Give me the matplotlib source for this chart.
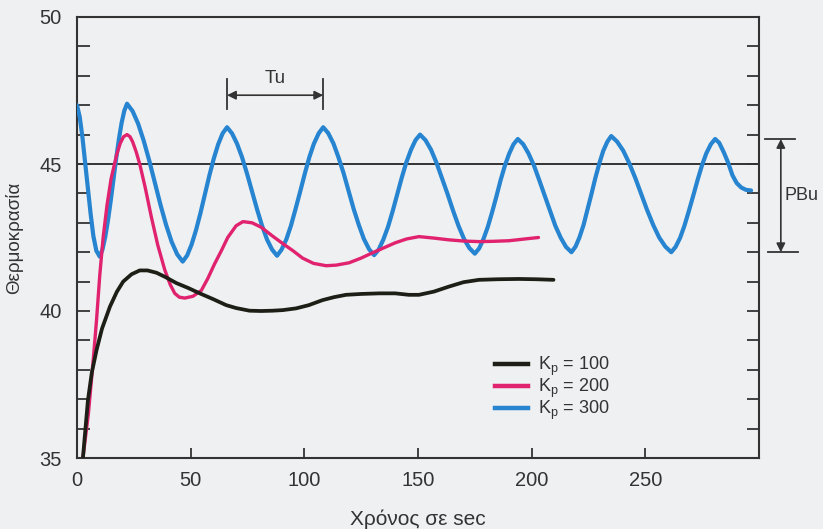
import numpy as np
import matplotlib
matplotlib.use("Agg")
import matplotlib.pyplot as plt
from matplotlib.lines import Line2D

plt.rcParams['font.family'] = ['Liberation Sans', 'DejaVu Sans']
plt.rcParams['mathtext.fontset'] = 'custom'
plt.rcParams['mathtext.rm'] = 'Liberation Sans'
plt.rcParams['mathtext.it'] = 'Liberation Sans:italic'

# ---- data: temperature response for three proportional gains ----
black_t = [2.6, 4.8, 6.5, 8.6, 11, 14.5, 17.5, 20.3, 24, 27.6, 31, 35, 39, 43.7, 49,
           54, 60, 65.6, 70, 75.9, 81, 86, 90.5, 96.4, 102, 108, 113, 118.3, 125, 133,
           140, 146, 150.4, 157, 163.6, 170, 176.8, 185, 194.3, 202, 209.6]
black_y = [35, 36.96, 37.9, 38.67, 39.4, 40.15, 40.65, 41.0, 41.25, 41.38, 41.38, 41.3, 41.15, 40.95, 40.78,
           40.6, 40.4, 40.2, 40.1, 40.01, 40.0, 40.01, 40.03, 40.09, 40.2, 40.37, 40.47, 40.55, 40.58, 40.6,
           40.6, 40.55, 40.55, 40.66, 40.83, 40.98, 41.06, 41.08, 41.09, 41.08, 41.06]

pink_t = [2.6, 5, 7, 8.6, 10, 11.5, 13.2, 15, 17.4, 19, 20.5, 22, 23.3, 24.5, 26, 27.6, 30, 32.7,
          35.5, 38.6, 41, 43, 45, 47.4, 51, 54.7, 57.5, 60.5, 63.5, 66.3, 70, 73, 77,
          81, 86, 90.4, 95, 99.2, 104, 109.6, 114, 119.7, 125, 130, 135, 140, 145, 150.4,
          157, 163.6, 170, 176.8, 183, 190, 197, 203]
pink_y = [35, 36.5, 38.2, 39.7, 41.2, 42.5, 43.6, 44.5, 45.3, 45.7, 45.93, 46.0, 45.93, 45.75, 45.42, 45.0, 44.2, 43.2,
          42.25, 41.4, 40.9, 40.6, 40.47, 40.44, 40.5, 40.7, 41.1, 41.6, 42.05, 42.5, 42.9, 43.04, 43.0,
          42.85, 42.55, 42.3, 42.05, 41.8, 41.62, 41.54, 41.56, 41.64, 41.8, 41.98, 42.15, 42.32, 42.45, 42.53,
          42.48, 42.42, 42.38, 42.36, 42.37, 42.39, 42.45, 42.5]

blue_t = [0, 1.2, 2.4, 3.5, 4.7, 6, 7.2, 8.5,
          10, 11.2, 12.4, 13.6, 14.8, 16, 17.2, 18.4, 19.6, 20.8,
          22, 24.45, 26.9, 29.35, 31.8, 34.25, 36.7, 39.15, 41.6, 44.05,
          46.5, 48.45, 50.4, 52.35, 54.3, 56.25, 58.2, 60.15, 62.1, 64.05,
          66, 68.2, 70.4, 72.6, 74.8, 77, 79.2, 81.4, 83.6, 85.8,
          88, 90, 92.1, 94.1, 96.1, 98.2, 100.2, 102.2, 104.2, 106.3,
          108.3, 110.5, 112.8, 115, 117.3, 119.5, 121.7, 124, 126.2, 128.5,
          130.7, 132.7, 134.7, 136.8, 138.8, 140.8, 142.8, 144.8, 146.9, 148.9,
          150.9, 153.3, 155.7, 158.1, 160.5, 163, 165.4, 167.8, 170.2, 172.6,
          175, 176.9, 178.8, 180.7, 182.6, 184.5, 186.3, 188.2, 190.1, 192,
          193.9, 196.3, 198.6, 201, 203.3, 205.7, 208.1, 210.4, 212.8, 215.1,
          217.5, 219.3, 221, 222.8, 224.5, 226.3, 228, 229.8, 231.5, 233.3,
          235, 237.6, 240.3, 242.9, 245.6, 248.2, 250.8, 253.5, 256.1, 258.8,
          261.4, 263.3, 265.3, 267.2, 269.1, 271.1, 273, 274.9, 276.8, 278.8,
          280.7, 282.5, 284.5, 286.4, 288.3, 290.2, 292.2, 294.3, 296.5]
blue_y = [47.0, 46.6, 45.9, 45.1, 44.2, 43.3, 42.55, 42.05,
          41.85, 42.09, 42.51, 43.07, 43.73, 44.45, 45.17, 45.83, 46.39, 46.81,
          47.05, 46.80, 46.37, 45.79, 45.11, 44.37, 43.62, 42.94, 42.36, 41.93,
          41.68, 41.89, 42.26, 42.75, 43.33, 43.97, 44.60, 45.18, 45.67, 46.04,
          46.25, 46.04, 45.69, 45.23, 44.67, 44.07, 43.46, 42.90, 42.43, 42.09,
          41.88, 42.09, 42.44, 42.90, 43.46, 44.07, 44.67, 45.23, 45.69, 46.04,
          46.25, 46.05, 45.70, 45.23, 44.68, 44.08, 43.47, 42.92, 42.45, 42.10,
          41.90, 42.09, 42.42, 42.86, 43.38, 43.95, 44.52, 45.04, 45.48, 45.81,
          46.00, 45.81, 45.49, 45.05, 44.53, 43.98, 43.42, 42.90, 42.46, 42.14,
          41.95, 42.13, 42.45, 42.86, 43.36, 43.90, 44.44, 44.94, 45.35, 45.67,
          45.85, 45.67, 45.36, 44.95, 44.46, 43.93, 43.39, 42.90, 42.49, 42.18,
          42.00, 42.19, 42.50, 42.92, 43.43, 43.98, 44.52, 45.03, 45.45, 45.76,
          45.95, 45.76, 45.45, 45.03, 44.52, 43.98, 43.43, 42.92, 42.50, 42.19,
          42.00, 42.18, 42.49, 42.90, 43.39, 43.93, 44.46, 44.95, 45.36, 45.67,
          45.85, 45.72, 45.40, 45.05, 44.62, 44.35, 44.20, 44.12, 44.10]

series_labels = ['K$_\\mathregular{p}$ = 100', 'K$_\\mathregular{p}$ = 200', 'K$_\\mathregular{p}$ = 300']
setpoint = 45
x_ticks = [0, 50, 100, 150, 200, 250]
y_ticks = [35, 40, 45, 50]

# ---- style ----
bg = '#eef0f1'
ink = '#333333'
c_black = '#1d1e16'
c_pink = '#e0226f'
c_blue = '#2684d0'

fig = plt.figure(figsize=(8.23, 5.29), dpi=100, facecolor=bg)
ax = fig.add_axes([77 / 823, 1 - 458 / 529, (759 - 77) / 823, (458 - 17) / 529])
ax.set_facecolor(bg)

ax.set_xlim(0, 300)
ax.set_ylim(35, 50)

ax.axhline(setpoint, color=ink, lw=1.4, zorder=1)

ax.plot(blue_t, blue_y, color=c_blue, lw=3.0, solid_joinstyle='round', solid_capstyle='round', zorder=3)
ax.plot(pink_t, pink_y, color=c_pink, lw=2.4, solid_joinstyle='round', solid_capstyle='round', zorder=4)
ax.plot(black_t, black_y, color=c_black, lw=2.7, solid_joinstyle='round', solid_capstyle='round', zorder=5)

for s in ax.spines.values():
    s.set_color(ink)
    s.set_linewidth(1.5)

ax.set_xticks(x_ticks)
ax.set_yticks(y_ticks)
ax.set_yticks(np.arange(35, 51, 1), minor=True)
ax.tick_params(axis='x', which='both', direction='in', length=7, width=1.3, color=ink,
               labelsize=14.5, labelcolor=ink, pad=9, top=False)
ax.tick_params(axis='y', which='both', direction='in', length=9, width=1.3, color=ink,
               labelsize=14.5, labelcolor=ink, pad=11, left=True, right=True)

ax.set_xlabel('Χρόνος σε sec', fontsize=15, color=ink, labelpad=14.5)
ax.set_ylabel('Θερμοκρασία', fontsize=13.5, color=ink, labelpad=12)

# ---- Tu: period between two successive peaks of the sustained oscillation ----
bt = np.array(blue_t)
by = np.array(blue_y)
peaks = [i for i in range(1, len(by) - 1) if by[i] > by[i - 1] and by[i] >= by[i + 1]]
troughs = [i for i in range(1, len(by) - 1) if by[i] < by[i - 1] and by[i] <= by[i + 1]]
t1, t2 = bt[peaks[1]], bt[peaks[2]]
tu_y = 47.34
for tx in (t1, t2):
    ax.plot([tx, tx], [tu_y - 0.48, tu_y + 0.54], color=ink, lw=1.3, zorder=6)
ax.annotate('', xy=(t1, tu_y), xytext=(t2, tu_y),
            arrowprops=dict(arrowstyle='<|-|>', color=ink, lw=1.2, shrinkA=0, shrinkB=0,
                            mutation_scale=13))
ax.text((t1 + t2) / 2, tu_y + 0.27, 'Tu', ha='center', va='bottom', fontsize=13.5, color=ink)

# ---- PBu: peak-to-peak amplitude of the sustained oscillation ----
hi = by[peaks[-1]]
lo = by[troughs[-1]]
px = 309.6
ax.plot([px - 7, px + 6.3], [hi, hi], color=ink, lw=1.3, clip_on=False)
ax.plot([px - 5.7, px + 7.6], [lo, lo], color=ink, lw=1.3, clip_on=False)
ax.annotate('', xy=(px, hi), xytext=(px, lo),
            arrowprops=dict(arrowstyle='<|-|>', color=ink, lw=1.2, shrinkA=0, shrinkB=0,
                            mutation_scale=13), annotation_clip=False)
ax.text(px + 1.8, (hi + lo) / 2, 'PBu', ha='left', va='center', fontsize=13, color=ink, clip_on=False)

# ---- legend ----
handles = [Line2D([], [], color=c_black, lw=3.2),
           Line2D([], [], color=c_pink, lw=3.2),
           Line2D([], [], color=c_blue, lw=3.2)]
ax.legend(handles, series_labels, loc='upper left', bbox_to_anchor=(0.613, 0.234),
          frameon=False, fontsize=13, handlelength=1.85, handletextpad=0.55,
          labelspacing=-0.07, borderpad=0, borderaxespad=0, labelcolor=ink)

fig.savefig('out.png', dpi=100, facecolor=bg)
